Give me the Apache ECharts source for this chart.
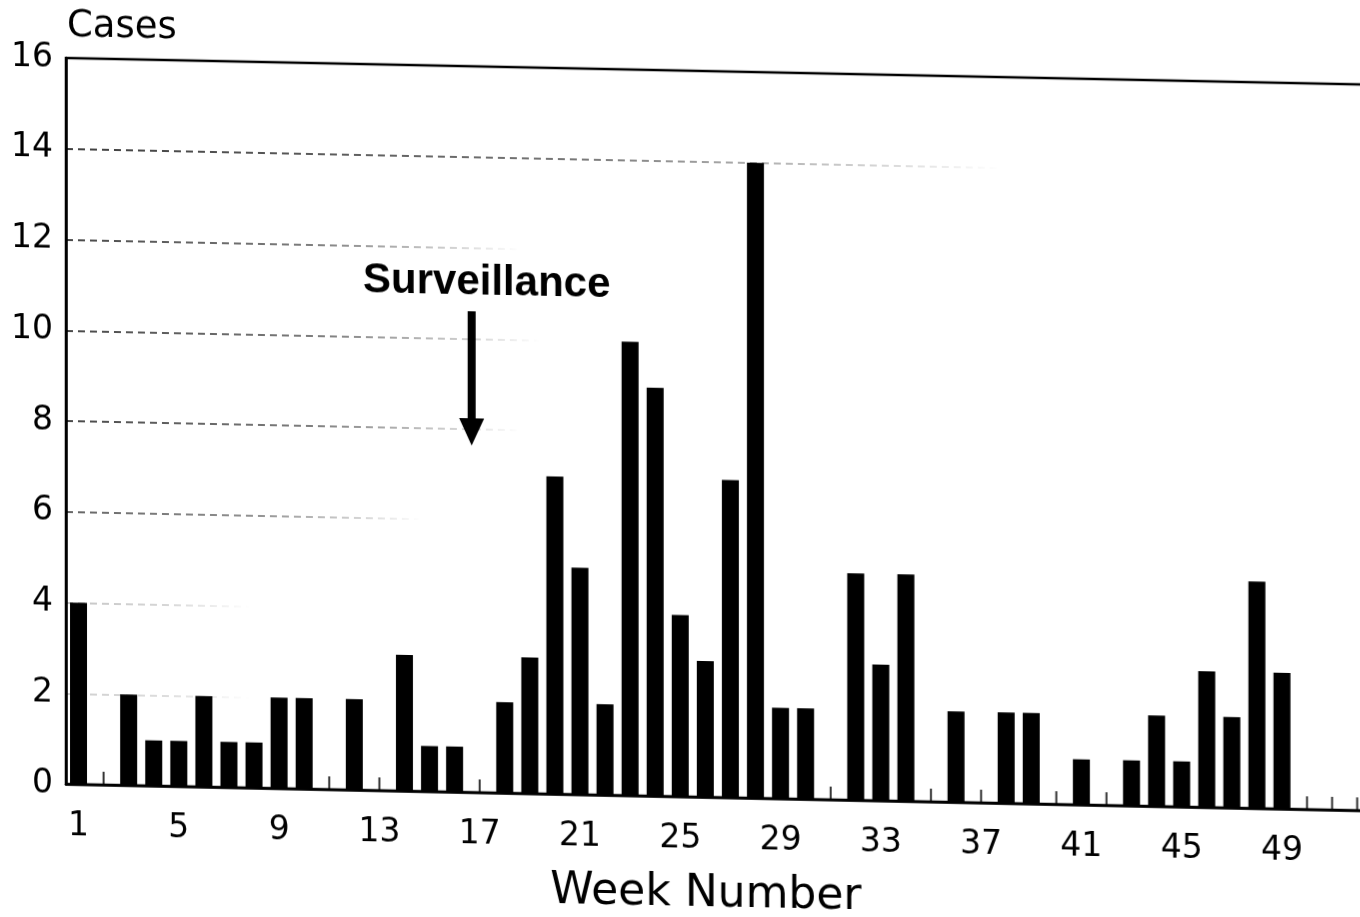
<!DOCTYPE html>
<html>
<head>
<meta charset="utf-8">
<script src="https://cdn.jsdelivr.net/npm/echarts@6/dist/echarts.min.js"></script>
<style>
html,body{margin:0;padding:0;background:#fff;overflow:hidden;width:1360px;height:917px;}
#chart{width:1420px;height:917px;transform:skewY(1.17deg);transform-origin:66px 0;}
</style>
</head>
<body>
<div id="chart"></div>
<script>
const weeks = ['1','2','3','4','5','6','7','8','9','10','11','12','13','14','15','16','17','18','19','20',
  '21','22','23','24','25','26','27','28','29','30','31','32','33','34','35','36','37','38','39','40',
  '41','42','43','44','45','46','47','48','49','50','51','52'];
const cases = [4,0,2,1,1,2,1,1,2,2,0,2,0,3,1,1,0,2,3,7,
  5,2,10,9,4,3,7,14,2,2,0,5,3,5,0,2,0,2,2,0,
  1,0,1,2,1,3,2,5,3,0,0,0];
const yMin = 0, yMax = 16, yStep = 2;
const annotationText = 'Surveillance';
const annotationWeek = '17';

const zeroMarks = cases.map(v => v === 0 ? 0 : '-');

const chart = echarts.init(document.getElementById('chart'), null, {renderer: 'canvas'});
const font = '"DejaVu Sans", "Liberation Sans", sans-serif';

// faded, scan-like grid lines (one style per grid level, bottom to top)
function fade(endX, a) {
  return new echarts.graphic.LinearGradient(66, 0, endX, 0, [
    {offset: 0, color: 'rgba(0,0,0,' + a + ')'},
    {offset: 0.55, color: 'rgba(0,0,0,' + (a * 0.7) + ')'},
    {offset: 0.85, color: 'rgba(0,0,0,' + (a * 0.25) + ')'},
    {offset: 1, color: 'rgba(0,0,0,0)'}
  ], true);
}
const gridColors = [
  'rgba(0,0,0,0)', fade(250, 0.25), fade(250, 0.3), fade(420, 0.8), fade(520, 0.95),
  fade(540, 0.95), fade(520, 0.95), fade(1000, 1), 'rgba(0,0,0,0)'
];

chart.setOption({
  animation: false,
  backgroundColor: '#fff',
  title: {
    text: 'Cases', left: 62, top: 3,
    textStyle: {fontSize: 37, fontWeight: 'normal', fontFamily: font, color: '#000'}
  },
  grid: {left: 66, top: 58, width: 1304, height: 726, show: true, borderColor: '#000', borderWidth: 2.5, backgroundColor: 'transparent'},
  xAxis: {
    type: 'category', data: weeks, boundaryGap: true,
    axisLine: {lineStyle: {color: '#000', width: 2.5}},
    axisTick: {interval: 3, alignWithLabel: true, length: 16, lineStyle: {color: '#000', width: 2}},
    axisLabel: {interval: 3, margin: 26, fontSize: 33, color: '#000', fontFamily: font},
    splitLine: {show: false},
    name: 'Week Number', nameLocation: 'middle', nameGap: 76,
    nameTextStyle: {fontSize: 44, fontFamily: font, color: '#000', padding: [0, 24, 0, 0]}
  },
  yAxis: {
    type: 'value', min: yMin, max: yMax, interval: yStep,
    axisLine: {show: true, lineStyle: {color: '#000', width: 2.5}},
    axisTick: {show: false},
    axisLabel: {fontSize: 33, margin: 13, color: '#000', fontFamily: font},
    splitLine: {show: true, lineStyle: {color: gridColors, width: 1.5, type: [7, 5]}}
  },
  series: [
    {type: 'bar', data: cases, barWidth: 17, itemStyle: {color: '#000'}, silent: true, z: 2},
    {type: 'scatter', data: zeroMarks, symbol: 'rect', symbolSize: [2, 13], symbolOffset: [0, '-50%'],
     itemStyle: {color: '#000'}, silent: true, z: 3}
  ]
});

const idx = weeks.indexOf(annotationWeek);
const pTop = chart.convertToPixel({gridIndex: 0}, [idx, 10.6]);
const pBase = chart.convertToPixel({gridIndex: 0}, [idx, 8.24]);
const pTip = chart.convertToPixel({gridIndex: 0}, [idx, 7.64]);
const pText = chart.convertToPixel({gridIndex: 0}, [idx, 11.23]);
const ax = pTop[0] - 8;
chart.setOption({
  graphic: [
    {type: 'text', x: pText[0] + 7, y: pText[1],
     style: {text: annotationText, fontSize: 42, fontWeight: 'bold', fontFamily: '"Liberation Sans", Arial, sans-serif', fill: '#000', align: 'center', verticalAlign: 'middle'}},
    {type: 'rect', shape: {x: ax - 4, y: pTop[1], width: 8, height: pBase[1] - pTop[1]}, style: {fill: '#000'}},
    {type: 'polygon', shape: {points: [[ax - 12.5, pBase[1]], [ax + 12.5, pBase[1]], [ax, pTip[1]]]}, style: {fill: '#000'}}
  ]
});
</script>
</body>
</html>
